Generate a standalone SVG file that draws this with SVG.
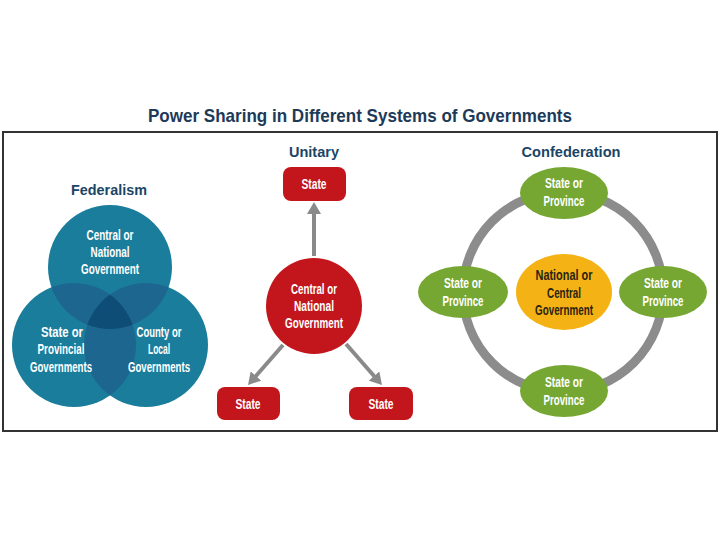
<svg xmlns="http://www.w3.org/2000/svg" width="720" height="540" viewBox="0 0 720 540">
<style>
.title{font-family:"Liberation Sans",Arial,sans-serif;font-weight:bold;fill:#1d3a58}
.sub{font-family:"Liberation Sans",Arial,sans-serif;font-weight:bold;fill:#1b4566;text-anchor:middle}
.lbl{font-family:"Liberation Sans",Arial,sans-serif;font-size:14.5px;fill:#ffffff;text-anchor:middle;font-weight:bold}
.dark{fill:#2a2412}
.red{fill:#c3161c}
.green{fill:#77a733}
.arrow{stroke:#8a8a8a;stroke-width:4;fill:none}
</style>
<defs>
<marker id="ah" markerUnits="userSpaceOnUse" markerWidth="14" markerHeight="14" refX="4" refY="7" orient="auto">
<path d="M0,0 L12,7 L0,14 z" fill="#8a8a8a"/>
</marker>
<clipPath id="cT"><circle cx="110" cy="267" r="62"/></clipPath>
<clipPath id="cL"><circle cx="74" cy="345" r="62"/></clipPath>
<clipPath id="cR"><circle cx="146" cy="345" r="62"/></clipPath>
</defs>
<rect x="0" y="0" width="720" height="540" fill="#ffffff"/>
<text class="title" x="360" y="122" font-size="19" text-anchor="middle" textLength="424" lengthAdjust="spacingAndGlyphs">Power Sharing in Different Systems of Governments</text>
<rect x="3" y="132" width="714" height="299" fill="none" stroke="#333333" stroke-width="2"/>

<text class="sub" x="109" y="195" font-size="15" textLength="76" lengthAdjust="spacingAndGlyphs">Federalism</text>
<text class="sub" x="314" y="157" font-size="15" textLength="50" lengthAdjust="spacingAndGlyphs">Unitary</text>
<text class="sub" x="571" y="157" font-size="15" textLength="99" lengthAdjust="spacingAndGlyphs">Confederation</text>

<g id="federalism">
<circle cx="110" cy="267" r="62" fill="#1a7d9c"/>
<circle cx="74" cy="345" r="62" fill="#1a7d9c"/>
<circle cx="146" cy="345" r="62" fill="#1a7d9c"/>
<circle cx="74" cy="345" r="62" fill="#1d6690" clip-path="url(#cT)"/>
<circle cx="146" cy="345" r="62" fill="#1d6690" clip-path="url(#cT)"/>
<circle cx="146" cy="345" r="62" fill="#1d6690" clip-path="url(#cL)"/>
<g clip-path="url(#cT)"><circle cx="146" cy="345" r="62" fill="#0e4e76" clip-path="url(#cL)"/></g>
</g>
<g id="fed-central"><text class="lbl" x="110" y="240" textLength="47" lengthAdjust="spacingAndGlyphs">Central or</text><text class="lbl" x="110" y="257" textLength="39" lengthAdjust="spacingAndGlyphs">National</text><text class="lbl" x="110" y="274" textLength="58" lengthAdjust="spacingAndGlyphs">Government</text></g>
<g id="fed-state"><text class="lbl" x="62" y="337" textLength="42" lengthAdjust="spacingAndGlyphs">State or</text><text class="lbl" x="61" y="354" textLength="47" lengthAdjust="spacingAndGlyphs">Provincial</text><text class="lbl" x="61" y="372" textLength="62" lengthAdjust="spacingAndGlyphs">Governments</text></g>
<g id="fed-county"><text class="lbl" x="159" y="337" textLength="45" lengthAdjust="spacingAndGlyphs">County or</text><text class="lbl" x="159" y="354" textLength="22" lengthAdjust="spacingAndGlyphs">Local</text><text class="lbl" x="159" y="372" textLength="62" lengthAdjust="spacingAndGlyphs">Governments</text></g>

<g id="connectors">
<line class="arrow" x1="314" y1="256" x2="314" y2="210" marker-end="url(#ah)"/>
<line class="arrow" x1="283" y1="345" x2="253.3" y2="379" marker-end="url(#ah)"/>
<line class="arrow" x1="346" y1="344" x2="376.7" y2="379" marker-end="url(#ah)"/>
<circle cx="563" cy="292" r="100" fill="none" stroke="#8c8c8c" stroke-width="9"/>
</g>

<g id="uni-central"><circle class="red" cx="314" cy="306" r="48"/><text class="lbl" x="314" y="294" textLength="46" lengthAdjust="spacingAndGlyphs">Central or</text><text class="lbl" x="314" y="311" textLength="40" lengthAdjust="spacingAndGlyphs">National</text><text class="lbl" x="314" y="328" textLength="58" lengthAdjust="spacingAndGlyphs">Government</text></g>
<g id="uni-top"><rect class="red" x="283" y="167" width="63" height="34" rx="8"/><text class="lbl" x="314" y="189" textLength="25" lengthAdjust="spacingAndGlyphs">State</text></g>
<g id="uni-left"><rect class="red" x="217" y="387" width="63" height="33" rx="8"/><text class="lbl" x="248" y="409" textLength="25" lengthAdjust="spacingAndGlyphs">State</text></g>
<g id="uni-right"><rect class="red" x="349" y="387" width="64" height="33" rx="8"/><text class="lbl" x="381" y="409" textLength="25" lengthAdjust="spacingAndGlyphs">State</text></g>

<g id="conf-center"><ellipse cx="564" cy="292" rx="48" ry="38" fill="#f4b214"/><text class="lbl dark" x="564" y="280" textLength="57" lengthAdjust="spacingAndGlyphs">National or</text><text class="lbl dark" x="564" y="298" textLength="34" lengthAdjust="spacingAndGlyphs">Central</text><text class="lbl dark" x="564" y="315" textLength="58" lengthAdjust="spacingAndGlyphs">Government</text></g>
<g id="conf-top"><ellipse class="green" cx="564" cy="193" rx="44" ry="26"/><text class="lbl" x="564" y="188" textLength="38" lengthAdjust="spacingAndGlyphs">State or</text><text class="lbl" x="564" y="206" textLength="41" lengthAdjust="spacingAndGlyphs">Province</text></g>
<g id="conf-left"><ellipse class="green" cx="463" cy="292" rx="45" ry="26"/><text class="lbl" x="463" y="288" textLength="38" lengthAdjust="spacingAndGlyphs">State or</text><text class="lbl" x="463" y="306" textLength="41" lengthAdjust="spacingAndGlyphs">Province</text></g>
<g id="conf-right"><ellipse class="green" cx="663" cy="292" rx="44" ry="26"/><text class="lbl" x="663" y="288" textLength="38" lengthAdjust="spacingAndGlyphs">State or</text><text class="lbl" x="663" y="306" textLength="41" lengthAdjust="spacingAndGlyphs">Province</text></g>
<g id="conf-bottom"><ellipse class="green" cx="564" cy="391" rx="44" ry="26"/><text class="lbl" x="564" y="387" textLength="38" lengthAdjust="spacingAndGlyphs">State or</text><text class="lbl" x="564" y="405" textLength="41" lengthAdjust="spacingAndGlyphs">Province</text></g>
</svg>
